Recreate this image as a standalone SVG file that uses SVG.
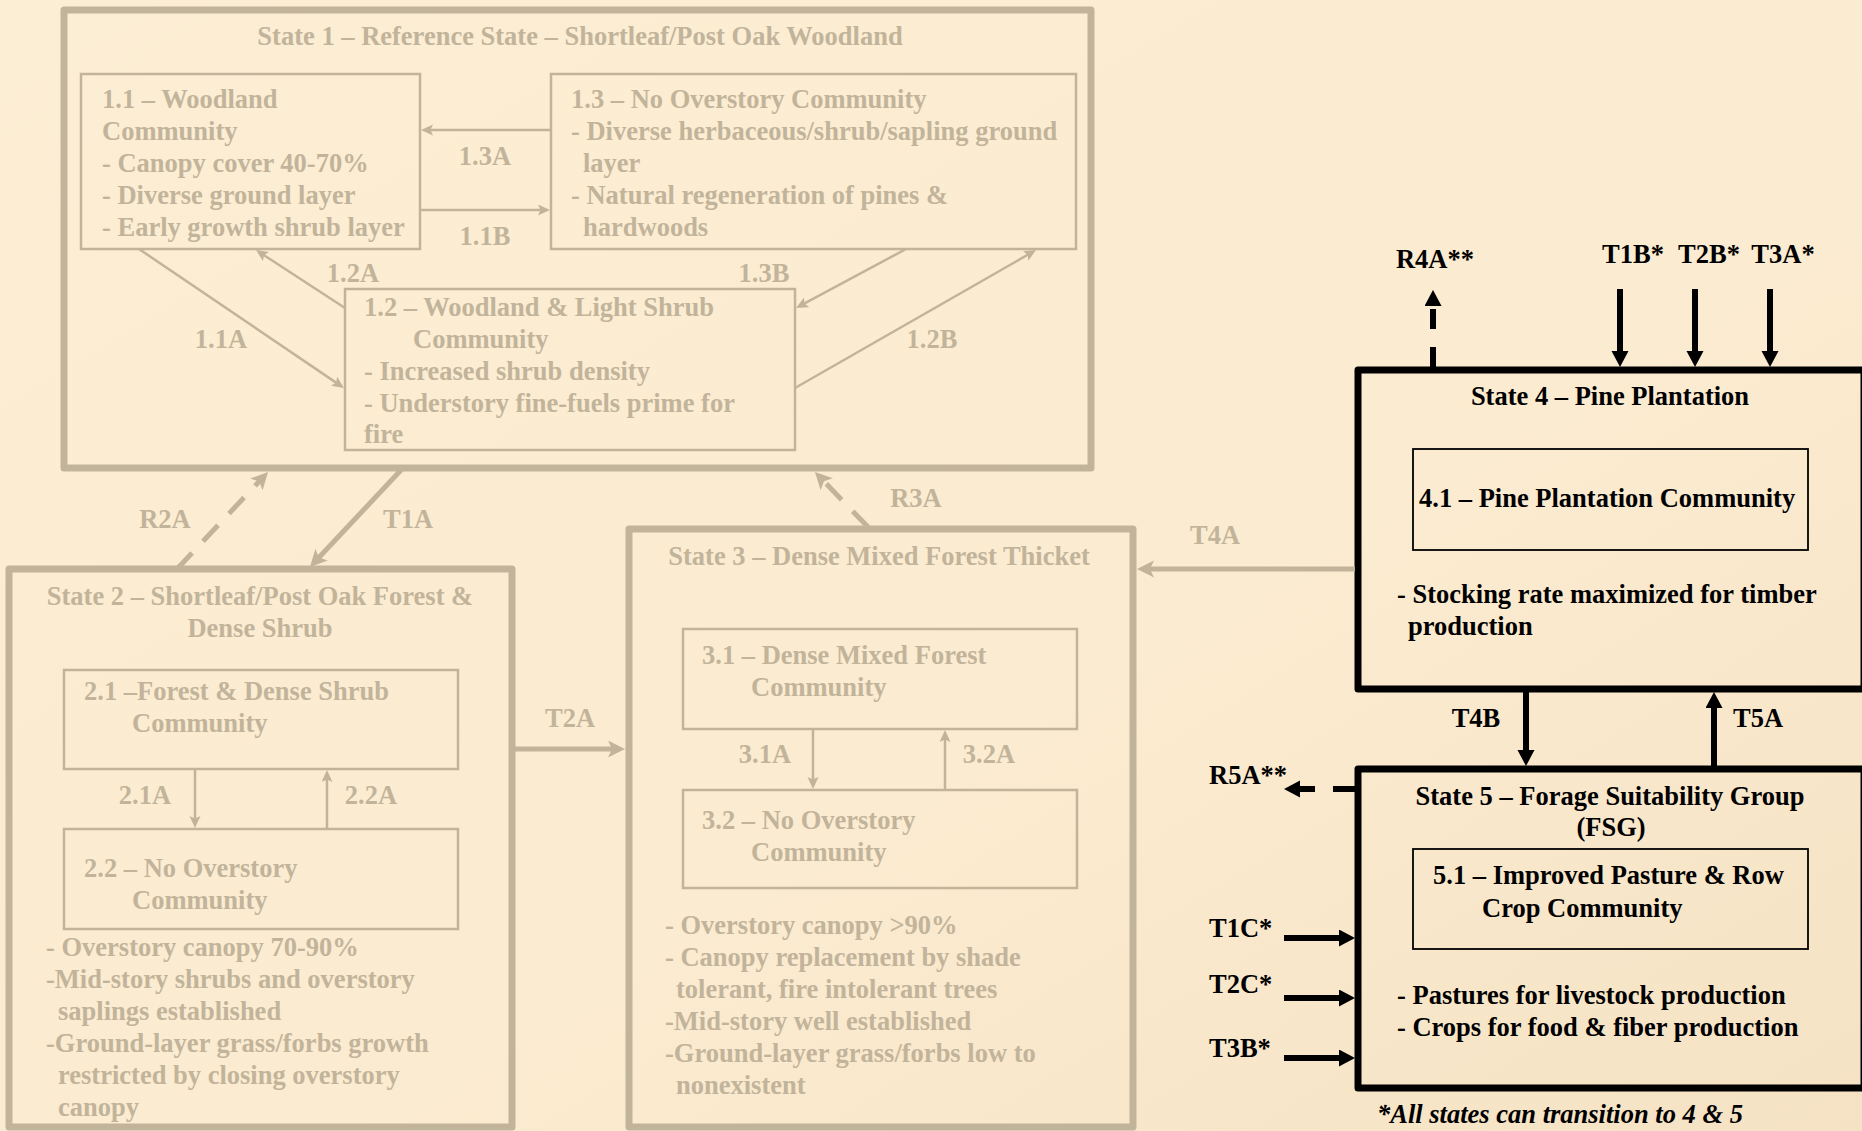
<svg xmlns="http://www.w3.org/2000/svg" width="1862" height="1131" viewBox="0 0 1862 1131">
<defs>
<linearGradient id="bg" x1="0" y1="0" x2="1" y2="1">
<stop offset="0" stop-color="#FCEED4"/>
<stop offset="0.6" stop-color="#FBEBD0"/>
<stop offset="1" stop-color="#F5E2C4"/>
</linearGradient>
<marker id="fadeBig" markerUnits="userSpaceOnUse" markerWidth="20" markerHeight="20" refX="7" refY="8.5" orient="auto">
<path d="M0,0 L17,8.5 L0,17 L4,8.5 z" fill="#C2B49B"/>
</marker>
<marker id="fadeSmall" markerUnits="userSpaceOnUse" markerWidth="14" markerHeight="14" refX="6" refY="5.5" orient="auto">
<path d="M0,0 L12,5.5 L0,11 L2.5,5.5 z" fill="#C2B49B"/>
</marker>
<marker id="blk" markerUnits="userSpaceOnUse" markerWidth="20" markerHeight="20" refX="6" refY="8.5" orient="auto">
<path d="M0,0 L16,8.5 L0,17 z" fill="#000"/>
</marker>
</defs>
<style>
text{font-family:"Liberation Serif","Times New Roman",serif;font-weight:bold;font-size:26.5px}
.f{fill:#C2B49B}
.k{fill:#000}
.m{text-anchor:middle}
.it{font-style:italic}
.so{fill:none;stroke:#C2B49B;stroke-width:7;stroke-linejoin:round}
.si{fill:none;stroke:#C2B49B;stroke-width:2.5}
.sk{fill:none;stroke:#000;stroke-width:7;stroke-linejoin:round}
.ski{fill:none;stroke:#000;stroke-width:1.8}
.cb{fill:none;stroke:#C2B49B;stroke-width:5;marker-end:url(#fadeBig)}
.cs{fill:none;stroke:#C2B49B;stroke-width:2.5;marker-end:url(#fadeSmall)}
.ck{fill:none;stroke:#000;stroke-width:6;marker-end:url(#blk)}
.dash{stroke-dasharray:22 16}
</style>
<rect x="0" y="0" width="1862" height="1131" fill="url(#bg)"/>

<g id="state1">
<rect class="so" x="64" y="10" width="1027" height="458"/>
<text class="f m" x="580" y="45">State 1 – Reference State – Shortleaf/Post Oak Woodland</text>
</g>
<g id="c11">
<rect class="si" x="81" y="74" width="339" height="175"/>
<text class="f" x="102" y="108">1.1 – Woodland</text>
<text class="f" x="102" y="140">Community</text>
<text class="f" x="102" y="172">- Canopy cover 40-70%</text>
<text class="f" x="102" y="204">- Diverse ground layer</text>
<text class="f" x="102" y="236">- Early growth shrub layer</text>
</g>
<g id="c13">
<rect class="si" x="551" y="74" width="525" height="175"/>
<text class="f" x="571" y="108">1.3 – No Overstory Community</text>
<text class="f" x="571" y="140">- Diverse herbaceous/shrub/sapling ground</text>
<text class="f" x="583" y="172">layer</text>
<text class="f" x="571" y="204">- Natural regeneration of pines &amp;</text>
<text class="f" x="583" y="236">hardwoods</text>
</g>
<g id="c12">
<rect class="si" x="345" y="289" width="450" height="161"/>
<text class="f" x="364" y="316">1.2 – Woodland &amp; Light Shrub</text>
<text class="f" x="413" y="348">Community</text>
<text class="f" x="364" y="380">- Increased shrub density</text>
<text class="f" x="364" y="412">- Understory fine-fuels prime for</text>
<text class="f" x="364" y="443">fire</text>
</g>

<g id="state2">
<rect class="so" x="9" y="569" width="503" height="558"/>
<text class="f m" x="260" y="605">State 2 – Shortleaf/Post Oak Forest &amp;</text>
<text class="f m" x="260" y="637">Dense Shrub</text>
<text class="f" x="46" y="956">- Overstory canopy 70-90%</text>
<text class="f" x="46" y="988">-Mid-story shrubs and overstory</text>
<text class="f" x="58" y="1020">saplings established</text>
<text class="f" x="46" y="1052">-Ground-layer grass/forbs growth</text>
<text class="f" x="58" y="1084">restricted by closing overstory</text>
<text class="f" x="58" y="1116">canopy</text>
</g>
<g id="c21">
<rect class="si" x="64" y="670" width="394" height="99"/>
<text class="f" x="84" y="700">2.1 –Forest &amp; Dense Shrub</text>
<text class="f" x="132" y="732">Community</text>
</g>
<g id="c22">
<rect class="si" x="64" y="829" width="394" height="100"/>
<text class="f" x="84" y="877">2.2 – No Overstory</text>
<text class="f" x="132" y="909">Community</text>
</g>

<g id="state3">
<rect class="so" x="629" y="529" width="504" height="598"/>
<text class="f m" x="879" y="565">State 3 – Dense Mixed Forest Thicket</text>
<text class="f" x="665" y="934">- Overstory canopy &gt;90%</text>
<text class="f" x="665" y="966">- Canopy replacement by shade</text>
<text class="f" x="676" y="998">tolerant, fire intolerant trees</text>
<text class="f" x="665" y="1030">-Mid-story well established</text>
<text class="f" x="665" y="1062">-Ground-layer grass/forbs low to</text>
<text class="f" x="676" y="1094">nonexistent</text>
</g>
<g id="c31">
<rect class="si" x="683" y="629" width="394" height="100"/>
<text class="f" x="702" y="664">3.1 – Dense Mixed Forest</text>
<text class="f" x="751" y="696">Community</text>
</g>
<g id="c32">
<rect class="si" x="683" y="790" width="394" height="98"/>
<text class="f" x="702" y="829">3.2 – No Overstory</text>
<text class="f" x="751" y="861">Community</text>
</g>

<g id="state4">
<rect class="sk" x="1358" y="370" width="506" height="319"/>
<text class="k m" x="1610" y="405">State 4 – Pine Plantation</text>
<text class="k" x="1397" y="603">- Stocking rate maximized for timber</text>
<text class="k" x="1408" y="635">production</text>
</g>
<g id="c41">
<rect class="ski" x="1413" y="449" width="395" height="101"/>
<text class="k" x="1419" y="507">4.1 – Pine Plantation Community</text>
</g>

<g id="state5">
<rect class="sk" x="1358" y="769" width="506" height="319"/>
<text class="k m" x="1610" y="805">State 5 – Forage Suitability Group</text>
<text class="k m" x="1611" y="836">(FSG)</text>
<text class="k" x="1397" y="1004">- Pastures for livestock production</text>
<text class="k" x="1397" y="1036">- Crops for food &amp; fiber production</text>
</g>
<g id="c51">
<rect class="ski" x="1413" y="849" width="395" height="100"/>
<text class="k" x="1433" y="884">5.1 – Improved Pasture &amp; Row</text>
<text class="k" x="1482" y="917">Crop Community</text>
</g>

<g id="connectors">
<path class="cs" d="M551,130 L427,130"/>
<path class="cs" d="M420,210 L544,210"/>
<path class="cs" d="M345,308 L261,253.3"/>
<path class="cs" d="M139,249 L339,384.6"/>
<path class="cs" d="M906,249 L801.3,305.2"/>
<path class="cs" d="M795,388 L1030.8,253"/>
<path class="cs" d="M195,769 L195,822"/>
<path class="cs" d="M327,829 L327,776"/>
<path class="cs" d="M813,729 L813,783"/>
<path class="cs" d="M945,790 L945,736"/>
<path class="cb dash" d="M177,569 L261.2,479.3"/>
<path class="cb" d="M402,469 L316.8,559.7"/>
<path class="cb dash" d="M868,527 L821.9,479.2"/>
<path class="cb" d="M513,749 L615,749"/>
<path class="cb" d="M1355,569 L1147,569"/>
<path class="ck" d="M1433,367 L1433,300" stroke-dasharray="20 18"/>
<path class="ck" d="M1620,289 L1620,357"/>
<path class="ck" d="M1695,289 L1695,357"/>
<path class="ck" d="M1770,289 L1770,357"/>
<path class="ck" d="M1526,689 L1526,756"/>
<path class="ck" d="M1714,769 L1714,702"/>
<path class="ck" d="M1355,789 L1294,789" stroke-dasharray="22 18"/>
<path class="ck" d="M1284,938 L1345,938"/>
<path class="ck" d="M1284,998 L1345,998"/>
<path class="ck" d="M1284,1058 L1345,1058"/>
<g id="labels">
<text class="f m" x="485" y="165">1.3A</text>
<text class="f m" x="485" y="245">1.1B</text>
<text class="f m" x="353" y="282">1.2A</text>
<text class="f m" x="221" y="348">1.1A</text>
<text class="f m" x="764" y="282">1.3B</text>
<text class="f m" x="932" y="348">1.2B</text>
<text class="f m" x="145" y="804">2.1A</text>
<text class="f m" x="371" y="804">2.2A</text>
<text class="f m" x="765" y="763">3.1A</text>
<text class="f m" x="989" y="763">3.2A</text>
<text class="f m" x="165" y="528">R2A</text>
<text class="f m" x="408" y="528">T1A</text>
<text class="f m" x="916" y="507">R3A</text>
<text class="f m" x="570" y="727">T2A</text>
<text class="f m" x="1215" y="544">T4A</text>
<text class="k m" x="1435" y="268">R4A**</text>
<text class="k m" x="1633" y="263">T1B*</text>
<text class="k m" x="1709" y="263">T2B*</text>
<text class="k m" x="1783" y="263">T3A*</text>
<text class="k m" x="1476" y="727">T4B</text>
<text class="k m" x="1758" y="727">T5A</text>
<text class="k" x="1209" y="784">R5A**</text>
<text class="k" x="1209" y="937">T1C*</text>
<text class="k" x="1209" y="993">T2C*</text>
<text class="k" x="1209" y="1057">T3B*</text>
</g>
</g>
<text class="k it" x="1377" y="1123">*All states can transition to 4 &amp; 5</text>
</svg>
